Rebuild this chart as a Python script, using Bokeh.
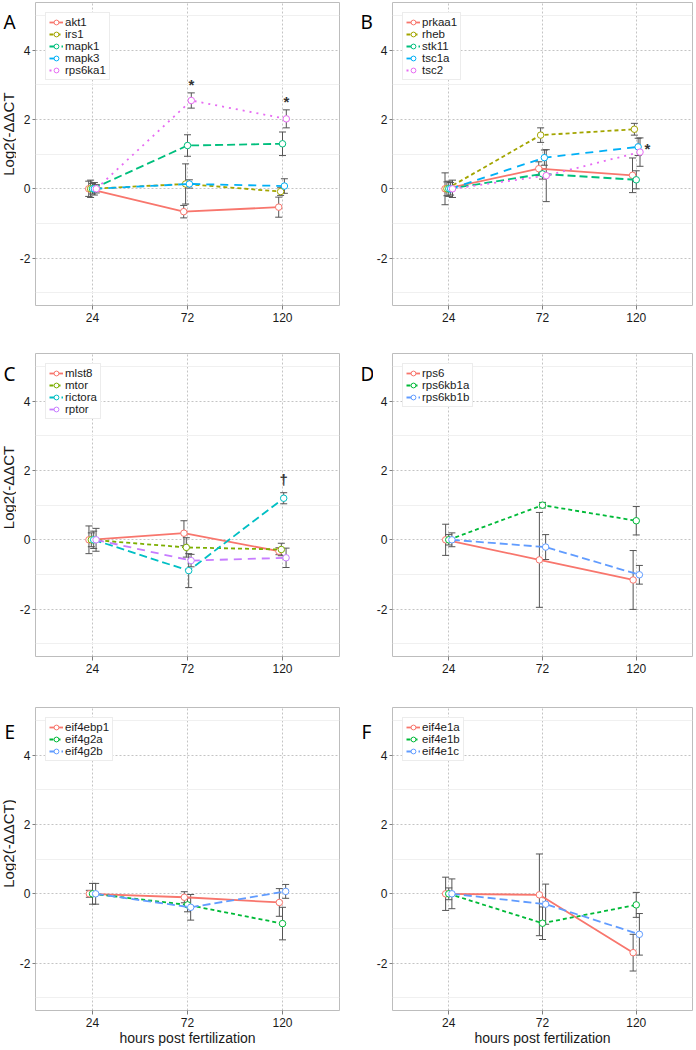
import math
from bokeh.plotting import figure
from bokeh.layouts import column, row
from bokeh.models import Range1d, FixedTicker, Whisker, TeeHead, ColumnDataSource
from bokeh.embed import file_html
from bokeh.resources import INLINE
from bokeh.core.properties import value

# ---------------- data ----------------
hpf = ["24", "72", "120"]

A_genes = ["akt1", "irs1", "mapk1", "mapk3", "rps6ka1"]
A_mean = [[0, -0.66, -0.53], [0, 0.14, -0.08], [0, 1.25, 1.30], [0, 0.14, 0.08], [0, 2.55, 2.02]]
A_err = [[0.22, 0.18, 0.29], [0.25, 0.58, 0.11], [0.15, 0.31, 0.34], [0.18, 0.12, 0.21], [0.12, 0.22, 0.26]]
A_sig = [(4, 1, "*"), (4, 2, "*")]

B_genes = ["prkaa1", "rheb", "stk11", "tsc1a", "tsc2"]
B_mean = [[0, 0.58, 0.39], [0, 1.55, 1.72], [0, 0.43, 0.26], [0, 0.90, 1.21], [0, 0.38, 1.06]]
B_err = [[0.46, 0.20, 0.50], [0.20, 0.21, 0.17], [0.22, 0.15, 0.26], [0.18, 0.22, 0.25], [0.25, 0.75, 0.41]]
B_sig = [(3, 2, "*")]

C_genes = ["mlst8", "mtor", "rictora", "rptor"]
C_mean = [[0, 0.19, -0.33], [0, -0.22, -0.28], [0, -0.89, 1.20], [0, -0.60, -0.52]]
C_err = [[0.40, 0.36, 0.10], [0.20, 0.28, 0.18], [0.25, 0.49, 0.16], [0.33, 0.18, 0.28]]
C_sig = [(2, 2, "\u2020")]

D_genes = ["rps6", "rps6kb1a", "rps6kb1b"]
D_mean = [[0, -0.58, -1.16], [0, 1.00, 0.55], [0, -0.21, -1.01]]
D_err = [[0.45, 1.37, 0.85], [0.15, 0.08, 0.41], [0.20, 0.36, 0.27]]

E_genes = ["eif4ebp1", "eif4g2a", "eif4g2b"]
E_mean = [[0, -0.10, -0.25], [0, -0.32, -0.86], [0, -0.39, 0.07]]
E_err = [[0.10, 0.16, 0.40], [0.30, 0.20, 0.47], [0.30, 0.37, 0.20]]

F_genes = ["eif4e1a", "eif4e1b", "eif4e1c"]
F_mean = [[0, -0.03, -1.70], [0, -0.85, -0.32], [0, -0.30, -1.17]]
F_err = [[0.48, 1.18, 0.53], [0.17, 0.47, 0.36], [0.43, 0.58, 0.60]]

y_ticks = [-2, 0, 2, 4]
y_tick_labels = ["-2", "0", "2", "4"]
y_minor = [-3, -1, 1, 3, 5]

# ---------------- style ----------------
PAL5 = ["#F8766D", "#A3A500", "#00BF7D", "#00B0F6", "#E76BF3"]
PAL4 = ["#F8766D", "#7CAE00", "#00BFC4", "#C77CFF"]
PAL3 = ["#F8766D", "#00BA38", "#619CFF"]
DASH = ["solid", "4 3", "8 4", "8 6", "2 5"]
FONT = "Liberation Sans"
Y0, Y1 = -3.37, 5.38
X0, X1 = 0.4, 3.6
DODGE = 0.1
BAR = "#555555"
SL, SR = 16, 21      # widths of the left strips (letter + y title)
WL, WR = 352, 693    # right edges of the two columns


def panel(genes, means, errs, colors, left_col, sig, sig_mode,
          height, b_top, b_bottom, xlabel=None):
    p = figure(width=(WL - SL) if left_col else (WR - WL - SR), height=height,
               x_range=Range1d(X0, X1), y_range=Range1d(Y0, Y1),
               output_backend="svg", toolbar_location=None,
               min_border_left=15,
               min_border_right=13 if left_col else 1,
               min_border_top=b_top, min_border_bottom=b_bottom)
    p.background_fill_color = "white"
    p.border_fill_color = "white"
    p.outline_line_color = "#BDBDBD"
    p.outline_line_width = 1

    xt = FixedTicker(ticks=[i + 1 for i in range(len(hpf))])
    yt = FixedTicker(ticks=y_ticks, minor_ticks=y_minor)
    p.xaxis.ticker = xt
    p.xgrid.ticker = xt
    p.yaxis.ticker = yt
    p.ygrid.ticker = yt
    p.xaxis.major_label_overrides = {i + 1: h for i, h in enumerate(hpf)}
    p.yaxis.major_label_overrides = dict(zip(y_ticks, y_tick_labels))

    for g in (p.xgrid, p.ygrid):
        g.grid_line_color = "#C4C4C4"
        g.grid_line_dash = "2 2"
        g.grid_line_width = 1
    p.ygrid.minor_grid_line_color = "#F0F0F0"

    for ax in (p.xaxis, p.yaxis):
        ax.axis_line_color = None
        ax.major_tick_line_color = "#7F7F7F"
        ax.major_tick_in = 0
        ax.minor_tick_line_color = None
        ax.major_label_text_font = FONT
        ax.major_label_text_font_size = "12px"
        ax.major_label_text_color = "#1A1A1A"
        ax.axis_label_text_font = FONT
        ax.axis_label_text_font_style = "normal"
        ax.axis_label_text_color = "#1A1A1A"
        ax.axis_label_standoff = 0
    p.yaxis.major_tick_out = 3
    p.yaxis.major_label_standoff = 1
    p.xaxis.major_tick_out = 4
    p.xaxis.major_label_standoff = 3
    p.xaxis.axis_label_text_line_height = 1.0
    p.xaxis.axis_label_text_font_size = "14px"
    if xlabel:
        p.xaxis.axis_label = xlabel

    n = len(genes)
    xs_all = []
    for i, (g, m, e) in enumerate(zip(genes, means, errs)):
        off = (i - (n - 1) / 2) * DODGE / n
        xs = [j + 1 + off for j in range(len(hpf))]
        xs_all.append(xs)
        src = ColumnDataSource(dict(x=xs, y=m,
                                    lo=[a - b for a, b in zip(m, e)],
                                    hi=[a + b for a, b in zip(m, e)]))
        w = Whisker(source=src, base="x", upper="hi", lower="lo", dimension="height",
                    line_color=BAR, line_width=1,
                    upper_head=TeeHead(size=7, line_color=BAR, line_width=1),
                    lower_head=TeeHead(size=7, line_color=BAR, line_width=1))
        p.add_layout(w)
        p.line("x", "y", source=src, line_color=colors[i], line_width=1.8,
               line_dash=DASH[i], legend_label=g)
        p.scatter("x", "y", source=src, marker="circle", size=6.5, fill_color="white",
                  line_color=colors[i], line_width=1, legend_label=g)

    if sig:
        sx, sy, st = [], [], []
        for si, ti, sym in sig:
            if sig_mode == "above":
                sx.append(xs_all[si][ti])
                sy.append(means[si][ti] + errs[si][ti] + (0.38 if sym != "*" else 0.25))
            else:
                sx.append(xs_all[si][ti] + 0.1)
                sy.append(means[si][ti] - 0.05)
            st.append(sym)
        p.text(x=sx, y=sy, text=st, text_font=value(FONT), text_font_size="15px",
               text_font_style="bold", text_color="#333333",
               text_align="center", text_baseline="middle")

    lg = p.legend[0]
    lg.location = "top_left"
    lg.margin = 10
    lg.padding = 3
    lg.spacing = 0
    lg.label_height = 12
    lg.glyph_height = 12
    lg.glyph_width = 14
    lg.label_standoff = 2
    lg.label_text_font = FONT
    lg.label_text_font_size = "11.5px"
    lg.label_text_color = "#1A1A1A"
    lg.border_line_color = "#D9D9D9"
    lg.background_fill_alpha = 1
    return p


def strip(w, h, letter, lx, lbase, ylabel=None, ycenter=0):
    # left strip of a panel: panel letter and y title (data units = pixels)
    q = figure(width=w, height=h, x_range=Range1d(0, w), y_range=Range1d(0, h),
               output_backend="svg", toolbar_location=None,
               x_axis_location=None, y_axis_location=None, min_border=0)
    q.outline_line_color = None
    q.border_fill_color = "white"
    q.background_fill_color = "white"
    q.grid.visible = False
    q.text(x=[lx], y=[h - lbase], text=[letter], text_font=value("Noto Sans"),
           text_font_size="19px", text_color="#000000",
           text_align="left", text_baseline="alphabetic")
    if ylabel:
        q.text(x=[8], y=[h - ycenter], text=[ylabel], text_font=value(FONT),
               text_font_size="15px", text_color="#1A1A1A", angle=math.pi / 2,
               text_align="center", text_baseline="middle")
    return q


XL = "hours post fertilization"
YL1 = "Log2(-\u0394\u0394CT"
YL2 = "Log2(-\u0394\u0394CT)"
pA = panel(A_genes, A_mean, A_err, PAL5, True, A_sig, "above", 350, 2, 45)
pB = panel(B_genes, B_mean, B_err, PAL5, False, B_sig, "right", 350, 2, 45)
pC = panel(C_genes, C_mean, C_err, PAL4, True, C_sig, "above", 355, 3, 49)
pD = panel(D_genes, D_mean, D_err, PAL3, False, (), "above", 355, 3, 49)
pE = panel(E_genes, E_mean, E_err, PAL3, True, (), "above", 343, 2, 37, XL)
pF = panel(F_genes, F_mean, F_err, PAL3, False, (), "above", 343, 2, 37, XL)

layout = column(
    row(strip(SL, 350, "A", 3, 23, YL1, 152), pA, strip(SR, 350, "B", 8, 22), pB),
    row(strip(SL, 355, "C", 3, 24, YL1, 157), pC, strip(SR, 355, "D", 8, 24), pD),
    row(strip(SL, 343, "E", 4, 28, YL2, 154), pE, strip(SR, 343, "F", 9, 28), pF),
)
open("out.html", "w").write(file_html(layout, INLINE))
